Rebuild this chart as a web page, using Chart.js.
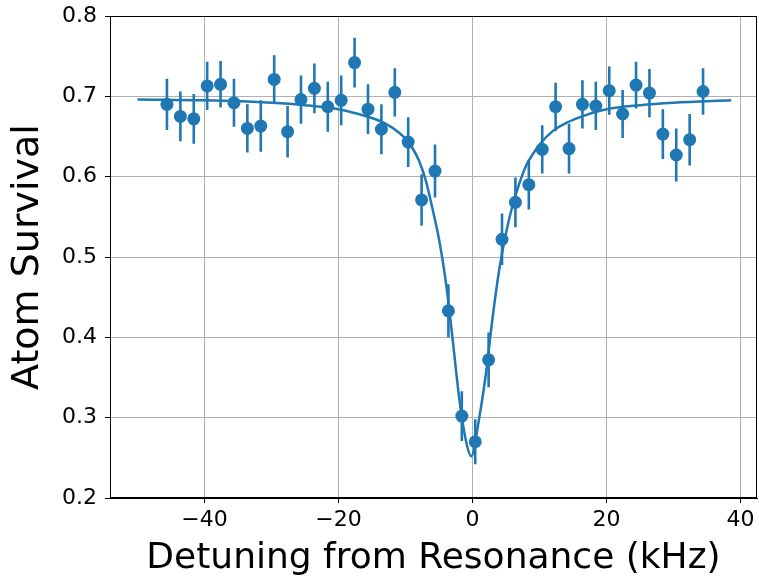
<!DOCTYPE html>
<html>
<head>
<meta charset="utf-8">
<script src="https://cdn.jsdelivr.net/npm/chart.js@4/dist/chart.umd.min.js"></script>
<style>
  html, body { margin: 0; padding: 0; background: #fff; }
  #chart { display: block; }
</style>
</head>
<body>
<canvas id="chart" width="759" height="582"></canvas>
<script>
// measured detuning (kHz), survival and error bar half-widths
const detuning = [-45.6, -43.6, -41.6, -39.6, -37.6, -35.6, -33.6, -31.6, -29.6, -27.6,
                  -25.6, -23.6, -21.6, -19.6, -17.6, -15.6, -13.6, -11.6, -9.6, -7.6,
                  -5.6, -3.6, -1.6, 0.4, 2.4, 4.4, 6.4, 8.4, 10.4, 12.4,
                  14.4, 16.4, 18.4, 20.4, 22.4, 24.4, 26.4, 28.4, 30.4, 32.4, 34.4];
const survival = [0.690, 0.675, 0.672, 0.713, 0.715, 0.692, 0.660, 0.663, 0.721, 0.656,
                  0.696, 0.710, 0.687, 0.695, 0.742, 0.684, 0.659, 0.705, 0.643, 0.571,
                  0.607, 0.433, 0.302, 0.270, 0.372, 0.522, 0.568, 0.590, 0.634, 0.687,
                  0.635, 0.690, 0.688, 0.707, 0.678, 0.714, 0.704, 0.653, 0.627, 0.646, 0.706];
const survivalErr = [0.032, 0.031, 0.031, 0.030, 0.029, 0.030, 0.030, 0.032, 0.030, 0.032,
                     0.030, 0.031, 0.031, 0.031, 0.031, 0.031, 0.031, 0.030, 0.031, 0.032,
                     0.033, 0.033, 0.031, 0.028, 0.034, 0.032, 0.031, 0.031, 0.030, 0.030,
                     0.031, 0.030, 0.030, 0.030, 0.030, 0.029, 0.030, 0.031, 0.033, 0.032, 0.029];

// fit curve
const fitX = [-50, -40, -30, -25, -20, -17, -15, -13, -11, -10, -9, -8, -7, -6, -5, -4, -3, -2, -1, -0.2,
              1, 2, 3, 4, 5, 6, 7, 8, 9, 10, 12, 14, 17, 20, 25, 30, 38.6];
const fitY = [0.696, 0.695, 0.692, 0.689, 0.684, 0.678, 0.673, 0.666, 0.655, 0.647, 0.636, 0.620, 0.596,
              0.561, 0.522, 0.470, 0.400, 0.325, 0.272, 0.252,
              0.300, 0.355, 0.425, 0.485, 0.530, 0.565, 0.592, 0.614, 0.628, 0.640, 0.657, 0.667,
              0.677, 0.684, 0.689, 0.692, 0.695];

const xTicks = [-40, -20, 0, 20, 40];
const yTicks = [0.2, 0.3, 0.4, 0.5, 0.6, 0.7, 0.8];

const blue = '#1f77b4';
const fontFam = "'DejaVu Sans', sans-serif";

// points, fit, and error bars (as broken line segments)
const pts = detuning.map((x, i) => ({x: x, y: survival[i]}));
const fit = fitX.map((x, i) => ({x: x, y: fitY[i]}));
let bars = [];
for (let i = 0; i < detuning.length; ++i) {
    bars.push({x: detuning[i], y: survival[i] - survivalErr[i]});
    bars.push({x: detuning[i], y: survival[i] + survivalErr[i]});
    bars.push({x: detuning[i], y: null});
}

// top/right spines
const boxPlugin = {
    id: 'box',
    afterDraw(chart) {
        const a = chart.chartArea;
        const ctx = chart.ctx;
        ctx.save();
        ctx.strokeStyle = '#000';
        ctx.lineWidth = 1;
        ctx.strokeRect(Math.round(a.left) + 0.5, Math.round(a.top) + 0.5,
                       Math.round(a.right - a.left) - 1, Math.round(a.bottom - a.top) - 1);
        ctx.restore();
    }
};

// no extra room for overflowing tick labels
function noPad(s) {
    s.paddingTop = 0; s.paddingBottom = 0; s.paddingLeft = 0; s.paddingRight = 0;
}

new Chart(document.getElementById('chart').getContext('2d'), {
    type: 'scatter',
    data: {
        datasets: [
            {
                data: pts,
                backgroundColor: blue,
                borderColor: blue,
                pointRadius: 6.5,
                pointBorderWidth: 0,
                showLine: false
            },
            {
                data: fit,
                showLine: true,
                borderColor: blue,
                borderWidth: 2.5,
                pointRadius: 0,
                cubicInterpolationMode: 'monotone',
                fill: false
            },
            {
                data: bars,
                showLine: true,
                spanGaps: false,
                borderColor: blue,
                borderWidth: 2.6,
                pointRadius: 0,
                fill: false
            }
        ]
    },
    options: {
        responsive: false,
        animation: false,
        devicePixelRatio: 1,
        layout: { autoPadding: false, padding: { top: 16, right: 2, left: 0, bottom: 0 } },
        plugins: { legend: { display: false }, tooltip: { enabled: false } },
        scales: {
            x: {
                type: 'linear',
                min: -54.1,
                max: 42.45,
                afterBuildTicks: (s) => { s.ticks = xTicks.map(v => ({value: v})); },
                afterFit: (s) => { s.height = 84; noPad(s); },
                grid: { color: '#b0b0b0', lineWidth: 1, drawTicks: true, tickLength: 5, tickColor: '#000' },
                border: { display: true, color: '#000', width: 1 },
                ticks: {
                    color: '#000',
                    padding: 4,
                    maxRotation: 0,
                    font: { family: fontFam, size: 22 },
                    callback: (v) => (v < 0 ? '\u2212' + Math.abs(v) : '' + v)
                },
                title: {
                    display: true,
                    text: 'Detuning from Resonance (kHz)',
                    color: '#000',
                    font: { family: fontFam, size: 36 },
                    padding: { top: 0, bottom: 2 }
                }
            },
            y: {
                type: 'linear',
                min: 0.2,
                max: 0.8,
                afterBuildTicks: (s) => { s.ticks = yTicks.map(v => ({value: v})); },
                afterFit: (s) => { s.width = 110; noPad(s); },
                grid: { color: '#b0b0b0', lineWidth: 1, drawTicks: true, tickLength: 5, tickColor: '#000' },
                border: { display: true, color: '#000', width: 1 },
                ticks: {
                    color: '#000',
                    padding: 8,
                    font: { family: fontFam, size: 22 },
                    callback: (v) => v.toFixed(1)
                },
                title: {
                    display: true,
                    text: 'Atom Survival',
                    color: '#000',
                    font: { family: fontFam, size: 38 },
                    padding: { top: 5, bottom: 0 }
                }
            }
        }
    },
    plugins: [boxPlugin]
});
</script>
</body>
</html>
